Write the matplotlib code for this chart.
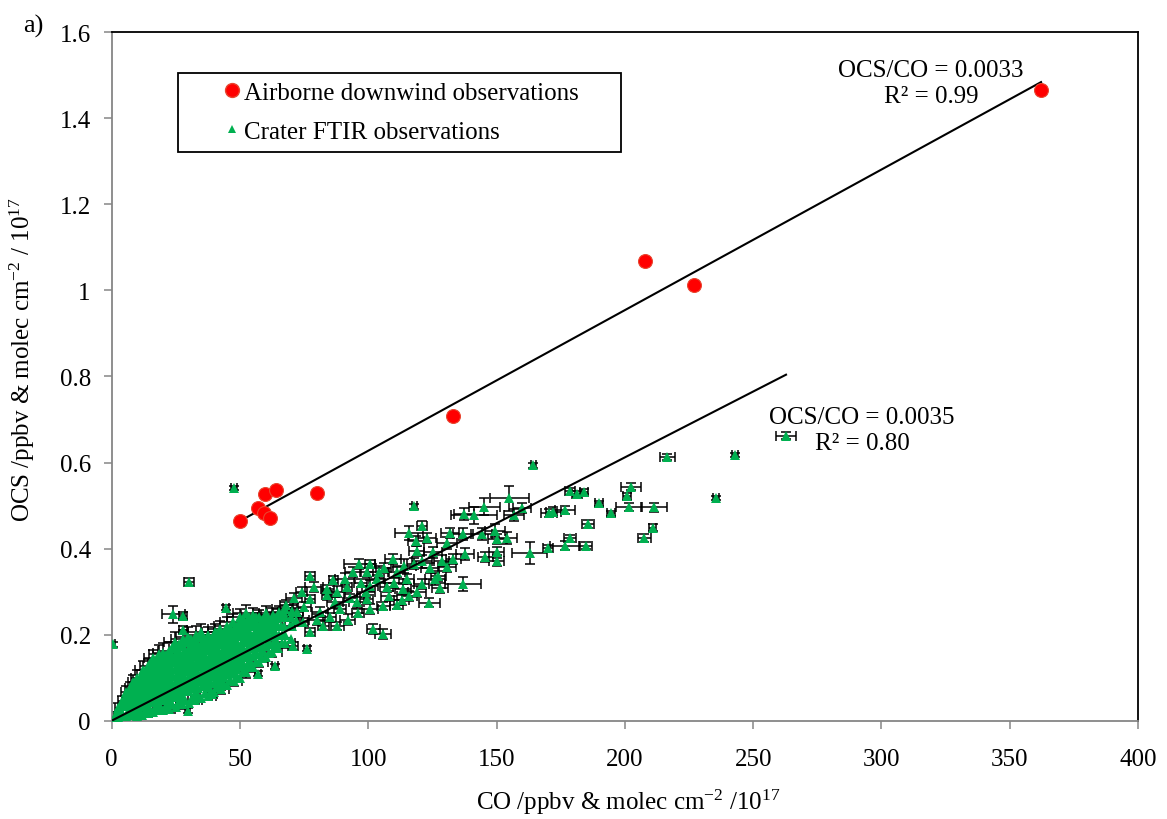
import numpy as np
import matplotlib
matplotlib.use("Agg")
import matplotlib.pyplot as plt
from matplotlib.lines import Line2D

plt.rcParams["font.family"] = ["Liberation Serif", "DejaVu Serif"]
plt.rcParams["mathtext.fontset"] = "custom"
plt.rcParams["mathtext.rm"] = "Liberation Serif"
plt.rcParams["mathtext.it"] = "Liberation Serif:italic"

nan = float("nan")  # error bar hidden under the marker

# Airborne downwind plume crossings (ppbv)
co_air = [50.0, 56.9, 59.9, 64.0, 59.4, 61.8, 80.0, 133.0, 207.8, 226.9, 362.2]
ocs_air = [0.463, 0.494, 0.526, 0.536, 0.483, 0.472, 0.530, 0.707, 1.068, 1.013, 1.466]

# Crater FTIR column amounts (molec cm-2 / 1e17) and their errors
co_ftir = [
    1.0, 1.3,
    2.4, 2.6, 2.5,
    4.0, 3.8, 4.2, 4.1,
    5.5, 5.3, 5.7, 5.4, 5.6,
    7.0, 7.2, 6.8, 7.1, 7.0,
    8.5, 8.4, 8.7, 8.3, 8.6, 8.5,
    10.0, 10.2, 9.8, 10.1, 10.3, 9.9, 10.0,
    12.0, 12.2, 11.8, 12.1, 12.3, 11.9, 12.0, 12.2,
    14.0, 13.8, 14.2, 14.1, 13.9, 14.3, 14.0, 14.1,
    16.0, 16.2, 15.8, 16.1, 16.3, 15.9, 16.0, 16.2, 16.1,
    18.0, 18.2, 17.8, 18.1, 18.3, 17.9, 18.0, 18.2, 18.4,
    20.0, 20.3, 19.8, 20.1, 20.2, 19.9, 20.0, 20.3, 20.1,
    22.5, 22.7, 22.3, 22.6, 22.4, 22.8, 22.5, 22.6, 22.4,
    25.0, 25.2, 24.8, 25.1, 25.3, 24.9, 25.0, 25.2, 25.1, 24.8,
    27.5, 27.7, 27.3, 27.6, 27.4, 27.8, 27.5, 27.6, 27.4, 27.7,
    30.0, 30.2, 29.8, 30.1, 30.3, 29.9, 30.0, 30.2, 30.1, 29.8,
    32.5, 32.7, 32.3, 32.6, 32.4, 32.8, 32.5, 32.6, 32.4, 32.7,
    35.0, 35.2, 34.8, 35.1, 35.3, 34.9, 35.0, 35.2, 35.1, 34.8,
    37.5, 37.7, 37.3, 37.6, 37.4, 37.8, 37.5, 37.6, 37.4,
    40.0, 40.2, 39.8, 40.1, 40.3, 39.9, 40.0, 40.2, 40.1,
    42.5, 42.7, 42.3, 42.6, 42.4, 42.8, 42.5, 42.6, 42.4,
    45.0, 45.2, 44.8, 45.1, 45.3, 44.9, 45.0, 45.2, 45.1,
    47.5, 47.7, 47.3, 47.6, 47.4, 47.8, 47.5, 47.6, 47.4,
    50.0, 50.2, 49.8, 50.1, 50.3, 49.9, 50.0, 50.2, 50.1,
    52.5, 52.7, 52.3, 52.6, 52.4, 52.8, 52.5, 52.6, 52.4,
    55.0, 55.2, 54.8, 55.1, 55.3, 54.9, 55.0, 55.2,
    57.5, 57.7, 57.3, 57.6, 57.4, 57.8, 57.5,
    60.0, 60.2, 59.8, 60.1, 60.3, 59.9, 60.0,
    62.5, 62.7, 62.3, 62.6, 62.4, 62.8,
    65.0, 65.2, 64.8, 65.1, 65.3,
    67.5, 67.7, 67.3, 67.6, 67.4,
    70.0, 70.2, 69.8, 70.1,
    # scattered low-CO points
    0.6, 47.7, 30.1, 24.0, 27.7, 27.9, 44.5, 29.7, 26.6, 39.0, 42.2, 76.0, 56.9, 63.6,
    77.3, 86.4, 96.5, 100.7, 99.4, 109.7, 103.3, 107.2, 91.6, 83.8,
    77.3, 66.9, 72.1, 81.2, 89.0, 95.5, 100.7, 105.8, 82.5, 74.7,
    69.5, 60.4, 64.3, 64.3, 77.3, 70.8, 102.0, 105.8, 88.0, 93.0,
    68.0, 71.0, 74.0, 79.0, 84.0, 87.0, 91.0, 94.0, 97.0, 99.0,
    104.0, 106.0, 111.0, 114.0, 118.0, 121.0, 124.0, 108.0, 111.0, 116.0,
    119.0, 85.0, 92.0, 96.0, 72.0, 80.0, 88.0, 75.0, 110.0, 126.0,
    # mid-range
    113.0, 118.9, 125.3, 128.6, 133.1, 137.7, 150.0, 115.0, 120.8, 100.7,
    99.4, 113.6, 127.3, 130.6, 136.8, 127.9, 123.8, 117.9, 120.8, 116.0,
    118.6, 123.0, 130.6, 131.8, 137.0, 144.2, 149.4, 150.3, 153.9, 156.8,
    159.8, 155.0, 145.2, 141.2, 137.3, 145.6, 150.0,
    # high CO
    164.3, 163.0, 169.9, 176.7, 178.6, 170.5, 172.1, 176.7, 178.6, 181.4,
    184.1, 185.6, 184.8, 190.0, 194.5, 200.9, 202.4, 201.7, 211.3, 210.8,
    207.6, 216.5, 235.5, 242.9, 262.8,
]
ocs_ftir = [
    0.005, 0.012,
    0.008, 0.020, 0.030,
    0.010, 0.022, 0.035, 0.046,
    0.012, 0.033, 0.047, 0.058, 0.066,
    0.015, 0.030, 0.046, 0.060, 0.076,
    0.013, 0.036, 0.051, 0.066, 0.080, 0.090,
    0.012, 0.026, 0.040, 0.055, 0.070, 0.086, 0.100,
    0.013, 0.038, 0.053, 0.068, 0.084, 0.098, 0.110, 0.118,
    0.018, 0.034, 0.050, 0.066, 0.080, 0.095, 0.110, 0.126,
    0.020, 0.044, 0.060, 0.076, 0.092, 0.108, 0.123, 0.137, 0.145,
    0.024, 0.040, 0.056, 0.071, 0.087, 0.104, 0.120, 0.136, 0.154,
    0.024, 0.050, 0.068, 0.083, 0.099, 0.116, 0.132, 0.148, 0.158,
    0.028, 0.046, 0.064, 0.080, 0.096, 0.111, 0.128, 0.145, 0.163,
    0.031, 0.056, 0.074, 0.092, 0.108, 0.124, 0.139, 0.157, 0.176, 0.184,
    0.038, 0.055, 0.072, 0.090, 0.105, 0.121, 0.138, 0.155, 0.173, 0.190,
    0.042, 0.068, 0.086, 0.104, 0.120, 0.136, 0.153, 0.169, 0.187, 0.195,
    0.048, 0.066, 0.084, 0.102, 0.119, 0.135, 0.151, 0.168, 0.185, 0.200,
    0.053, 0.080, 0.098, 0.116, 0.132, 0.148, 0.165, 0.182, 0.198, 0.205,
    0.058, 0.078, 0.096, 0.114, 0.131, 0.148, 0.165, 0.181, 0.198,
    0.066, 0.093, 0.111, 0.128, 0.145, 0.162, 0.179, 0.196, 0.206,
    0.074, 0.092, 0.110, 0.127, 0.144, 0.161, 0.178, 0.195, 0.212,
    0.082, 0.108, 0.126, 0.143, 0.160, 0.177, 0.194, 0.210, 0.220,
    0.092, 0.110, 0.127, 0.144, 0.161, 0.178, 0.195, 0.212, 0.229,
    0.100, 0.126, 0.144, 0.161, 0.178, 0.196, 0.213, 0.230, 0.240,
    0.112, 0.130, 0.148, 0.165, 0.182, 0.199, 0.216, 0.233, 0.250,
    0.124, 0.150, 0.168, 0.185, 0.202, 0.219, 0.236, 0.245,
    0.136, 0.154, 0.172, 0.190, 0.207, 0.224, 0.241,
    0.148, 0.174, 0.192, 0.209, 0.226, 0.242, 0.250,
    0.160, 0.178, 0.196, 0.213, 0.230, 0.246,
    0.170, 0.200, 0.220, 0.240, 0.252,
    0.180, 0.200, 0.220, 0.240, 0.260,
    0.190, 0.220, 0.240, 0.255,
    # scattered low-CO points
    0.178, 0.541, 0.322, 0.247, 0.244, 0.211, 0.263, 0.023, 0.050, 0.062, 0.081, 0.167, 0.109, 0.126,
    0.337, 0.328, 0.364, 0.364, 0.345, 0.376, 0.329, 0.310, 0.310, 0.291,
    0.283, 0.252, 0.252, 0.252, 0.260, 0.275, 0.260, 0.267, 0.221, 0.229,
    0.221, 0.206, 0.182, 0.221, 0.206, 0.174, 0.213, 0.202, 0.300, 0.285,
    0.270, 0.285, 0.300, 0.310, 0.305, 0.275, 0.330, 0.345, 0.320, 0.300,
    0.345, 0.355, 0.345, 0.360, 0.365, 0.370, 0.355, 0.290, 0.270, 0.290,
    0.300, 0.240, 0.235, 0.250, 0.235, 0.235, 0.220, 0.265, 0.320, 0.330,
    # mid-range
    0.281, 0.395, 0.391, 0.372, 0.376, 0.387, 0.391, 0.329, 0.318, 0.314,
    0.283, 0.306, 0.337, 0.357, 0.318, 0.308, 0.274, 0.498, 0.453, 0.436,
    0.418, 0.424, 0.413, 0.436, 0.434, 0.434, 0.442, 0.422, 0.424, 0.477,
    0.494, 0.517, 0.497, 0.477, 0.480, 0.380, 0.372,
    # high CO
    0.594, 0.390, 0.401, 0.407, 0.424, 0.483, 0.486, 0.490, 0.533, 0.527,
    0.532, 0.457, 0.407, 0.505, 0.482, 0.522, 0.544, 0.497, 0.496, 0.448,
    0.425, 0.614, 0.517, 0.618, 0.662,
]
co_err = [
    nan, 0.8,
    nan, nan, 1.2,
    nan, nan, nan, 1.5,
    nan, nan, nan, nan, 1.8,
    nan, nan, nan, nan, 2.0,
    nan, nan, nan, nan, nan, 2.2,
    1.5, nan, nan, nan, nan, nan, 2.5,
    nan, nan, nan, nan, nan, nan, nan, 3.0,
    1.8, nan, nan, nan, nan, nan, nan, 3.2,
    nan, nan, nan, nan, nan, nan, nan, nan, 3.5,
    2.0, nan, nan, nan, nan, nan, nan, nan, 3.8,
    nan, nan, nan, nan, nan, nan, nan, nan, 4.0,
    2.2, nan, nan, nan, nan, nan, nan, nan, 4.2,
    nan, nan, nan, nan, nan, nan, nan, nan, nan, 4.5,
    2.5, nan, nan, nan, nan, nan, nan, nan, nan, 4.6,
    nan, nan, nan, nan, nan, nan, nan, nan, nan, 4.8,
    2.8, nan, nan, nan, nan, nan, nan, nan, nan, 5.0,
    nan, nan, nan, nan, nan, nan, nan, nan, nan, 5.0,
    3.0, nan, nan, nan, nan, nan, nan, nan, 4.6,
    nan, nan, nan, nan, nan, nan, nan, nan, 4.8,
    3.2, nan, nan, nan, nan, nan, nan, nan, 5.0,
    nan, nan, nan, nan, nan, nan, nan, nan, 5.2,
    3.4, nan, nan, nan, nan, nan, nan, nan, 5.0,
    nan, nan, nan, nan, nan, nan, nan, nan, 5.0,
    3.5, nan, nan, nan, nan, nan, nan, nan, 5.2,
    nan, nan, nan, nan, nan, nan, nan, 4.8,
    3.6, nan, nan, nan, nan, nan, 4.6,
    nan, nan, nan, nan, nan, nan, 4.8,
    3.8, nan, nan, nan, nan, 4.5,
    nan, nan, nan, nan, 4.6,
    4.0, nan, nan, nan, 4.8,
    nan, nan, nan, 4.4,
    # scattered low-CO points
    0.8, 1.2, 2.0, 4.4, 1.5, 1.5, 1.2, 1.0, 1.5, 2.0, 1.8, 1.2, 1.2, 1.2,
    2.0, 1.8, 6.0, 2.0, 2.5, 3.0, 3.0, 2.5, 2.0, 2.0,
    2.0, 2.0, 2.5, 3.0, 2.5, 3.0, 3.0, 2.5, 2.0, 2.0,
    2.0, 2.0, 2.0, 2.0, 2.0, 2.0, 2.5, 3.0, 3.0, 2.5,
    2.5, 3.0, 2.0, 3.5, 2.5, 3.0, 4.0, 3.0, 2.5, 3.5,
    4.0, 3.0, 3.5, 4.5, 3.0, 4.0, 3.5, 3.0, 2.5, 3.0,
    3.5, 2.5, 3.0, 2.5, 2.0, 3.0, 2.5, 2.5, 3.5, 4.0,
    # mid-range
    3.0, 3.0, 3.5, 3.0, 3.0, 3.5, 3.0, 3.0, 3.0, 3.0,
    2.5, 3.0, 3.0, 3.5, 7.0, 3.0, 4.0, 1.0, 2.0, 5.5,
    3.0, 3.5, 4.0, 3.5, 4.0, 4.0, 4.0, 3.5, 4.0, 4.0,
    3.5, 7.5, 6.0, 9.0, 4.0, 3.0, 3.0,
    # high CO
    1.0, 6.8, 2.0, 6.0, 2.5, 3.0, 3.0, 4.0, 2.0, 2.0,
    1.5, 2.5, 2.5, 1.5, 1.5, 1.5, 4.0, 5.0, 5.0, 1.5,
    2.5, 3.0, 1.2, 1.2, 4.0,
]
ocs_err = [
    nan, 0.008,
    nan, nan, 0.010,
    nan, nan, nan, 0.012,
    nan, nan, nan, nan, 0.014,
    nan, nan, nan, nan, 0.015,
    nan, nan, nan, nan, nan, 0.016,
    0.008, nan, nan, nan, nan, nan, 0.018,
    nan, nan, nan, nan, nan, nan, nan, 0.020,
    0.008, nan, nan, nan, nan, nan, nan, 0.018,
    nan, nan, nan, nan, nan, nan, nan, nan, 0.020,
    0.009, nan, nan, nan, nan, nan, nan, nan, 0.022,
    nan, nan, nan, nan, nan, nan, nan, nan, 0.022,
    0.009, nan, nan, nan, nan, nan, nan, nan, 0.020,
    nan, nan, nan, nan, nan, nan, nan, nan, nan, 0.022,
    0.010, nan, nan, nan, nan, nan, nan, nan, nan, 0.020,
    nan, nan, nan, nan, nan, nan, nan, nan, nan, 0.022,
    0.010, nan, nan, nan, nan, nan, nan, nan, nan, 0.020,
    nan, nan, nan, nan, nan, nan, nan, nan, nan, 0.020,
    0.010, nan, nan, nan, nan, nan, nan, nan, 0.019,
    nan, nan, nan, nan, nan, nan, nan, nan, 0.019,
    0.011, nan, nan, nan, nan, nan, nan, nan, 0.020,
    nan, nan, nan, nan, nan, nan, nan, nan, 0.020,
    0.011, nan, nan, nan, nan, nan, nan, nan, 0.019,
    nan, nan, nan, nan, nan, nan, nan, nan, 0.019,
    0.012, nan, nan, nan, nan, nan, nan, nan, 0.019,
    nan, nan, nan, nan, nan, nan, nan, 0.017,
    0.012, nan, nan, nan, nan, nan, 0.016,
    nan, nan, nan, nan, nan, nan, 0.016,
    0.012, nan, nan, nan, nan, 0.015,
    nan, nan, nan, nan, 0.015,
    0.012, nan, nan, nan, 0.015,
    nan, nan, nan, 0.014,
    # scattered low-CO points
    0.006, 0.005, 0.010, 0.019, 0.008, 0.008, 0.006, 0.006, 0.008, 0.010, 0.008, 0.006, 0.006, 0.006,
    0.009, 0.008, 0.012, 0.010, 0.010, 0.012, 0.010, 0.010, 0.010, 0.010,
    0.010, 0.010, 0.010, 0.012, 0.010, 0.012, 0.012, 0.010, 0.010, 0.010,
    0.010, 0.010, 0.010, 0.010, 0.010, 0.010, 0.012, 0.012, 0.012, 0.010,
    0.010, 0.012, 0.010, 0.012, 0.010, 0.012, 0.014, 0.012, 0.010, 0.012,
    0.014, 0.012, 0.012, 0.016, 0.012, 0.014, 0.012, 0.012, 0.010, 0.012,
    0.012, 0.010, 0.012, 0.010, 0.010, 0.012, 0.010, 0.010, 0.012, 0.014,
    # mid-range
    0.012, 0.012, 0.012, 0.012, 0.012, 0.014, 0.012, 0.012, 0.012, 0.012,
    0.010, 0.012, 0.012, 0.012, 0.016, 0.012, 0.010, 0.005, 0.010, 0.017,
    0.012, 0.012, 0.014, 0.012, 0.014, 0.014, 0.014, 0.012, 0.014, 0.014,
    0.012, 0.029, 0.020, 0.020, 0.014, 0.012, 0.012,
    # high CO
    0.006, 0.025, 0.008, 0.010, 0.008, 0.010, 0.010, 0.010, 0.008, 0.008,
    0.006, 0.009, 0.009, 0.006, 0.006, 0.008, 0.008, 0.010, 0.010, 0.008,
    0.009, 0.007, 0.005, 0.005, 0.008,
]
assert len(co_ftir) == len(ocs_ftir) == len(co_err) == len(ocs_err)

# more FTIR points inside the dense low-CO band (error bars fall under the markers)
co_core = [
    3.2, 3.3,
    6.2, 6.1, 6.3,
    9.2, 9.1, 9.3, 9.2, 9.0,
    11.0, 11.1, 10.9, 11.0, 11.2, 10.9,
    13.0, 13.1, 12.9, 13.0, 13.2, 12.9, 13.1,
    15.0, 15.1, 14.9, 15.0, 15.2, 14.9, 15.1, 15.0,
    17.0, 17.1, 16.9, 17.0, 17.2, 16.9, 17.1, 17.0,
    19.0, 19.1, 18.9, 19.0, 19.2, 18.9, 19.1, 19.0,
    21.2, 21.3, 21.1, 21.2, 21.4, 21.1, 21.3, 21.2,
    23.7, 23.8, 23.6, 23.7, 23.9, 23.6, 23.8, 23.7, 23.6,
    26.2, 26.3, 26.1, 26.2, 26.4, 26.1, 26.3, 26.2, 26.1,
    28.7, 28.8, 28.6, 28.7, 28.9, 28.6, 28.8, 28.7, 28.6,
    31.2, 31.3, 31.1, 31.2, 31.4, 31.1, 31.3, 31.2, 31.1,
    33.7, 33.8, 33.6, 33.7, 33.9, 33.6, 33.8, 33.7, 33.6,
    36.2, 36.3, 36.1, 36.2, 36.4, 36.1, 36.3, 36.2,
    38.7, 38.8, 38.6, 38.7, 38.9, 38.6, 38.8, 38.7,
    41.2, 41.3, 41.1, 41.2, 41.4, 41.1, 41.3, 41.2,
    43.7, 43.8, 43.6, 43.7, 43.9, 43.6, 43.8, 43.7,
    46.2, 46.3, 46.1, 46.2, 46.4, 46.1, 46.3, 46.2,
    48.7, 48.8, 48.6, 48.7, 48.9, 48.6, 48.8, 48.7,
    51.2, 51.3, 51.1, 51.2, 51.4, 51.1, 51.3, 51.2,
    53.7, 53.8, 53.6, 53.7, 53.9, 53.6, 53.8, 53.7,
    56.2, 56.3, 56.1, 56.2, 56.4, 56.1, 56.3,
    58.7, 58.8, 58.6, 58.7, 58.9, 58.6,
    61.2, 61.3, 61.1, 61.2, 61.4,
    63.7, 63.8, 63.6, 63.7, 63.9,
    66.2, 66.3, 66.1, 66.2,
]
ocs_core = [
    0.015, 0.027,
    0.020, 0.037, 0.052,
    0.020, 0.034, 0.048, 0.062, 0.078,
    0.020, 0.033, 0.048, 0.063, 0.078, 0.093,
    0.022, 0.042, 0.058, 0.073, 0.088, 0.102, 0.115,
    0.026, 0.043, 0.058, 0.074, 0.088, 0.103, 0.118, 0.133,
    0.030, 0.048, 0.064, 0.080, 0.096, 0.112, 0.128, 0.142,
    0.032, 0.047, 0.064, 0.079, 0.095, 0.112, 0.128, 0.145,
    0.035, 0.055, 0.072, 0.088, 0.104, 0.120, 0.136, 0.152,
    0.038, 0.057, 0.072, 0.088, 0.104, 0.119, 0.136, 0.153, 0.168,
    0.042, 0.063, 0.080, 0.097, 0.113, 0.129, 0.146, 0.163, 0.178,
    0.048, 0.068, 0.083, 0.100, 0.116, 0.132, 0.149, 0.165, 0.182,
    0.052, 0.075, 0.092, 0.110, 0.127, 0.143, 0.159, 0.176, 0.191,
    0.058, 0.077, 0.093, 0.111, 0.128, 0.144, 0.160, 0.177, 0.194,
    0.064, 0.087, 0.105, 0.122, 0.139, 0.156, 0.173, 0.190,
    0.070, 0.087, 0.104, 0.122, 0.139, 0.156, 0.173, 0.190,
    0.078, 0.101, 0.119, 0.136, 0.153, 0.170, 0.187, 0.203,
    0.086, 0.101, 0.118, 0.135, 0.152, 0.169, 0.186, 0.203,
    0.094, 0.117, 0.135, 0.152, 0.169, 0.186, 0.203, 0.218,
    0.104, 0.119, 0.136, 0.153, 0.170, 0.187, 0.204, 0.221,
    0.114, 0.135, 0.153, 0.170, 0.187, 0.205, 0.222, 0.237,
    0.124, 0.139, 0.157, 0.174, 0.191, 0.208, 0.225, 0.240,
    0.136, 0.159, 0.177, 0.194, 0.211, 0.228, 0.242,
    0.146, 0.163, 0.181, 0.199, 0.216, 0.233,
    0.158, 0.183, 0.200, 0.217, 0.234,
    0.168, 0.187, 0.205, 0.222, 0.238,
    0.180, 0.200, 0.220, 0.240,
]
assert len(co_core) == len(ocs_core)

# slope of the FTIR regression (forced through zero)
ftir_slope = 0.00306

green = "#00B050"
grey = "#868686"

fig, ax = plt.subplots(figsize=(11.67, 8.2), dpi=100)
fig.subplots_adjust(left=0.0957, right=0.9752, bottom=0.1199, top=0.9594)

ax.errorbar(co_ftir, ocs_ftir, xerr=co_err, yerr=ocs_err, fmt="none",
            ecolor="black", elinewidth=1.1, capsize=3.5, capthick=1.1, zorder=2)
ax.plot(co_ftir, ocs_ftir, "^", color=green, markersize=7.3,
        markeredgewidth=0, zorder=3)
ax.plot(co_core, ocs_core, "^", color=green, markersize=7.3,
        markeredgewidth=0, zorder=3)
ax.plot(co_air, ocs_air, "o", markerfacecolor="#FF0000",
        markeredgecolor="#E8452F", markeredgewidth=0.8, markersize=10,
        linestyle="none", zorder=5)

# regression lines
slope, icpt = np.polyfit(co_air, ocs_air, 1)
xa = np.array([min(co_air), max(co_air)])
ax.plot(xa, slope * xa + icpt, color="black", linewidth=1.5, zorder=4)
xf = np.array([0.0, max(co_ftir)])
ax.plot(xf, ftir_slope * xf, color="black", linewidth=1.5, zorder=4)

ax.text(0.7983, 0.9263, "OCS/CO = 0.0033\nR\u00b2 = 0.99", transform=ax.transAxes,
        ha="center", va="center", fontsize=18, linespacing=1.27)
ax.text(0.7311, 0.4223, "OCS/CO = 0.0035\nR\u00b2 = 0.80", transform=ax.transAxes,
        ha="center", va="center", fontsize=18, linespacing=1.27)

ax.set_xlim(0, 400)
ax.set_ylim(0, 1.6)
ax.set_xticks(np.arange(0, 401, 50))
ax.set_yticks(np.arange(0, 1.61, 0.2))
ax.set_yticklabels([f"{v:g}" for v in np.round(np.arange(0, 1.61, 0.2), 1)])

ax.tick_params(direction="out", length=6, width=1.1, color=grey, labelsize=18)
ax.tick_params(axis="x", pad=14)
ax.tick_params(axis="y", pad=9)
for side in ["left", "bottom"]:
    ax.spines[side].set_color(grey)
    ax.spines[side].set_linewidth(1.3)
for side in ["top", "right"]:
    ax.spines[side].set_color("black")
    ax.spines[side].set_linewidth(1.3)

handles = [
    Line2D([], [], marker="o", linestyle="none", markerfacecolor="#FF0000",
           markeredgecolor="#E8452F", markersize=10),
    Line2D([], [], marker="^", linestyle="none", color=green,
           markeredgewidth=0, markersize=6),
]
labels = ["Airborne downwind observations", "Crater FTIR observations"]
leg = ax.legend(handles, labels, loc="upper left",
                bbox_to_anchor=(0.0646, 0.829, 0.4317, 0.1119), mode="expand",
                borderaxespad=0, fontsize=18, handlelength=3.6,
                handletextpad=-1.3, labelspacing=0.65, borderpad=0.35,
                fancybox=False, framealpha=1, edgecolor="black")
leg.get_frame().set_linewidth(1.3)

fig.text(628 / 1167, 1 - 802 / 820, "CO /ppbv & molec cm$^{\\mathregular{-2}}$ /10$^{\\mathregular{17}}$",
         ha="center", va="center", fontsize=18)
fig.text(22 / 1167, 1 - 360 / 820, "OCS /ppbv & molec cm$^{\\mathregular{-2}}$ / 10$^{\\mathregular{17}}$",
         ha="center", va="center", rotation=90, fontsize=18)
fig.text(33 / 1167, 1 - 26 / 820, "a)", ha="center", va="center", fontsize=19)

fig.savefig("out.png", dpi=100)
